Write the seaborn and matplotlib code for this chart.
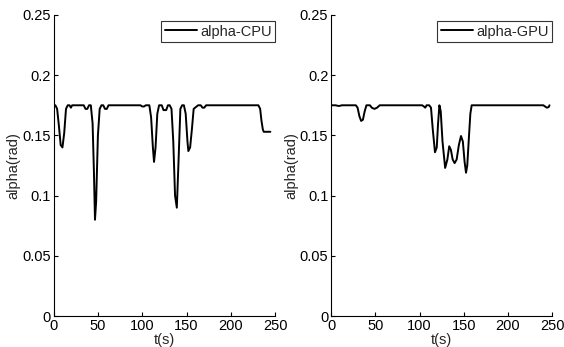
import numpy as np
import pandas as pd
import matplotlib
matplotlib.use('Agg')
import matplotlib.pyplot as plt
import seaborn as sns

# alpha-CPU trace
t_cpu = [0, 2, 4, 6, 8, 10, 12, 14, 16, 18, 19.5, 21, 23, 34, 36, 38, 40, 42, 44,
         45.5, 46.7, 48, 50, 52, 54, 56, 58, 60, 62, 98, 100, 102, 104, 108, 110,
         112, 113.3, 115, 117, 119, 122, 124, 125.5, 127, 129, 131, 133, 135, 137,
         139, 141, 143, 145, 147, 149, 151, 152, 154, 156, 158, 163, 166, 168, 170,
         172, 231, 233, 234.5, 236, 237, 244.5]
a_cpu = [0.175, 0.175, 0.172, 0.158, 0.142, 0.140, 0.152, 0.172, 0.175, 0.175, 0.173,
         0.175, 0.175, 0.175, 0.172, 0.172, 0.175, 0.175, 0.160, 0.120, 0.080,
         0.095, 0.150, 0.172, 0.175, 0.175, 0.172, 0.172, 0.175, 0.175, 0.174,
         0.174, 0.175, 0.175, 0.165, 0.140, 0.128, 0.140, 0.168, 0.175, 0.175,
         0.171, 0.171, 0.171, 0.175, 0.175, 0.172, 0.145, 0.100, 0.090, 0.130,
         0.172, 0.175, 0.175, 0.168, 0.145, 0.137, 0.140, 0.155, 0.172, 0.175,
         0.175, 0.173, 0.173, 0.175, 0.175, 0.172, 0.162, 0.155, 0.153, 0.153]

# alpha-GPU trace
t_gpu = [0, 5, 8, 10, 12, 20, 25, 28, 30, 32, 34, 36, 38, 40, 44, 46, 49, 52, 55,
         103, 105, 106.5, 108, 111, 113, 115, 117.5, 119.5, 121, 122.5, 124, 126,
         129, 131.5, 133.6, 135.5, 137.5, 139.7, 142, 144.5, 146.9, 149, 151, 152.6,
         154, 156, 157.5, 159, 170, 240, 242, 244, 246, 247]
a_gpu = [0.175, 0.175, 0.1745, 0.1745, 0.175, 0.175, 0.175, 0.175, 0.173, 0.166,
         0.162, 0.163, 0.170, 0.175, 0.175, 0.173, 0.172, 0.173, 0.175, 0.175,
         0.174, 0.173, 0.175, 0.175, 0.173, 0.155, 0.136, 0.140, 0.160, 0.175,
         0.170, 0.145, 0.123, 0.130, 0.141, 0.138, 0.130, 0.127, 0.130, 0.142,
         0.1495, 0.145, 0.128, 0.119, 0.125, 0.150, 0.168, 0.175, 0.175, 0.175,
         0.174, 0.173, 0.1735, 0.175]

x_ticks = [0, 50, 100, 150, 200, 250]
y_ticks = [0, 0.05, 0.1, 0.15, 0.2, 0.25]
y_labels = ['0', '0.05', '0.1', '0.15', '0.2', '0.25']

sns.set_style('ticks')
plt.rcParams['font.family'] = ['Liberation Sans', 'DejaVu Sans']

fig = plt.figure(figsize=(5.64, 3.47), dpi=100)
ax_l = fig.add_axes([0.095, 0.089, 0.393, 0.868])
ax_r = fig.add_axes([0.587, 0.089, 0.392, 0.868])

panels = [(ax_l, t_cpu, a_cpu, 'alpha-CPU'), (ax_r, t_gpu, a_gpu, 'alpha-GPU')]
for ax, t, a, name in panels:
    df = pd.DataFrame({'t': t, 'alpha': a})
    sns.lineplot(data=df, x='t', y='alpha', ax=ax, color='black', linewidth=1.4,
                 label=name, sort=False)
    ax.set_xlim(0, 250)
    ax.set_ylim(0, 0.25)
    ax.set_xticks(x_ticks)
    ax.set_yticks(y_ticks)
    ax.set_yticklabels(y_labels)
    ax.tick_params(direction='in', length=3, width=0.8, labelsize=10.5,
                   colors='black', pad=2)
    ax.set_xlabel('t(s)', fontsize=10.5, labelpad=0)
    ax.set_ylabel('alpha(rad)', fontsize=10.5, labelpad=1)
    for side in ['top', 'right']:
        ax.spines[side].set_visible(False)
    for side in ['left', 'bottom']:
        ax.spines[side].set_color('black')
        ax.spines[side].set_linewidth(0.8)
    leg = ax.legend(loc='upper right', fontsize=10.5, frameon=True, fancybox=False,
                    handlelength=2.2, handletextpad=0.2, borderpad=0.25,
                    borderaxespad=0.0, bbox_to_anchor=(1.0, 0.98))
    leg.get_frame().set_edgecolor('black')
    leg.get_frame().set_linewidth(0.8)

fig.savefig('out.png', dpi=100)
